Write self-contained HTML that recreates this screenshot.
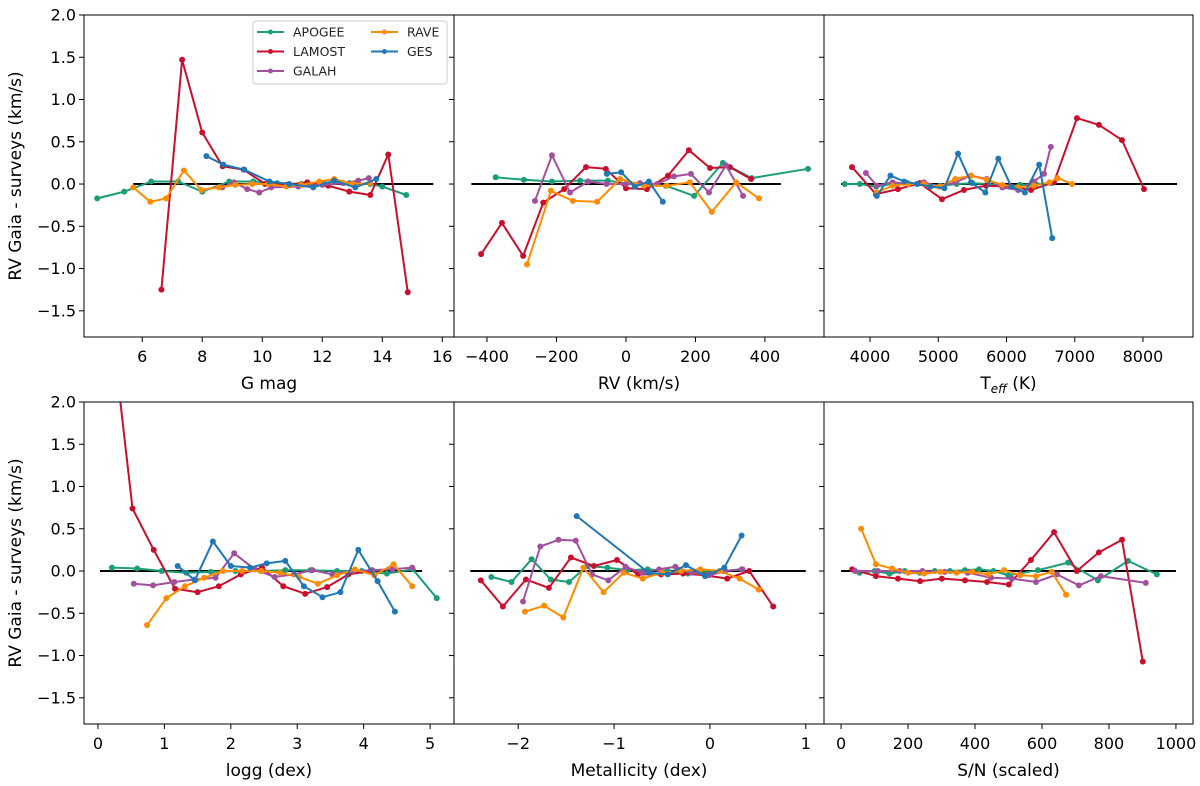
<!DOCTYPE html>
<html><head><meta charset="utf-8"><style>
html,body{margin:0;padding:0;background:#fff;}
svg{display:block;font-family:"DejaVu Sans","Liberation Sans",sans-serif;}
</style></head><body>
<svg id="fig" width="1200" height="786" viewBox="0 0 1200 786" xmlns="http://www.w3.org/2000/svg"></svg>
<script>
// ---------- data ----------
const seriesNames = ["APOGEE","LAMOST","GALAH","RAVE","GES"];
const seriesColors = ["#1b9e77","#c8102e","#a2509e","#ff8c00","#1f77b4"];
const yTicks = [-1.5,-1.0,-0.5,0.0,0.5,1.0,1.5,2.0];
const yTickLabels = ["−1.5","−1.0","−0.5","0.0","0.5","1.0","1.5","2.0"];

// Panel 1: G mag
const gTicks = [6,8,10,12,14,16];
const gApogeeX = [4.5,5.4,6.3,7.2,8.0,8.9,9.7,10.5,11.3,12.1,12.9,13.6,14.0,14.8];
const gApogeeY = [-0.17,-0.09,0.03,0.03,-0.09,0.03,0.03,0.01,0.0,0.0,0.01,0.0,-0.03,-0.13];
const gLamostX = [6.64,7.33,8.0,8.68,9.38,10.1,10.8,11.5,12.2,12.9,13.6,14.2,14.85];
const gLamostY = [-1.25,1.47,0.61,0.21,0.17,0.0,-0.01,0.02,-0.02,-0.09,-0.13,0.35,-1.28];
const gGalahX = [8.67,9.06,9.5,9.9,10.3,11.2,12.0,12.7,13.2,13.55];
const gGalahY = [-0.04,0.02,-0.06,-0.1,-0.04,-0.03,-0.01,0.01,0.04,0.07];
const gRaveX = [5.7,6.27,6.8,7.39,7.97,8.55,9.1,9.67,10.2,10.8,11.3,11.9,12.4,13.0,13.6];
const gRaveY = [-0.04,-0.21,-0.17,0.16,-0.07,-0.04,-0.01,0.0,0.0,-0.03,-0.01,0.03,0.06,0.0,0.01];
const gGesX = [8.14,8.7,9.4,10.24,10.9,11.7,12.4,13.1,13.8];
const gGesY = [0.33,0.23,0.17,0.03,0.0,-0.04,0.04,-0.04,0.06];

// Panel 2: RV
const rvTicks = [-400,-200,0,200,400];
const rvApogeeX = [-375,-294,-213,-132,-52,26,115,196,279,362,524];
const rvApogeeY = [0.08,0.05,0.03,0.04,0.04,-0.01,-0.02,-0.14,0.25,0.07,0.18];
const rvLamostX = [-417,-357,-296,-238,-178,-115,-58,0,60,121,181,242,299,360];
const rvLamostY = [-0.83,-0.46,-0.85,-0.22,-0.06,0.2,0.18,-0.05,-0.06,0.1,0.4,0.19,0.2,0.06];
const rvGalahX = [-262,-213,-161,-109,-56,0,40,90,138,187,239,288,337];
const rvGalahY = [-0.2,0.34,-0.1,0.03,0.0,0.0,0.01,0.0,0.09,0.12,-0.1,0.22,-0.14];
const rvRaveX = [-285,-216,-153,-83,-17,52,118,184,247,317,383];
const rvRaveY = [-0.95,-0.08,-0.2,-0.21,0.06,-0.02,-0.02,0.02,-0.33,0.02,-0.17];
const rvGesX = [-55,-14,26,66,106];
const rvGesY = [0.12,0.14,-0.03,0.03,-0.21];

// Panel 3: Teff
const tTicks = [4000,5000,6000,7000,8000];
const tApogeeX = [3630,3850,4090,4320,4550,4800,5030,5270,5500,5730,5970,6200,6430,6650];
const tApogeeY = [0.0,0.0,-0.03,0.0,0.01,0.0,-0.02,0.0,0.01,0.0,-0.03,-0.01,0.0,0.01];
const tLamostX = [3736,4088,4410,4730,5055,5377,5700,6037,6360,6695,7033,7355,7692,8015];
const tLamostY = [0.2,-0.12,-0.06,0.01,-0.18,-0.07,-0.02,-0.03,-0.07,0.02,0.78,0.7,0.52,-0.06];
const tGalahX = [3940,4100,4330,4560,4790,5020,5250,5480,5710,5940,6170,6400,6550,6650];
const tGalahY = [0.13,-0.02,0.02,0.0,0.02,-0.03,0.02,0.1,0.06,-0.04,-0.07,0.03,0.12,0.44];
const tRaveX = [4100,4330,4560,4790,5020,5250,5480,5710,5940,6170,6400,6630,6750,6960];
const tRaveY = [-0.1,-0.02,0.0,0.0,-0.03,0.06,0.1,0.05,-0.01,-0.04,-0.02,0.02,0.07,0.0];
const tGesX = [4100,4300,4500,4690,4890,5090,5290,5480,5690,5880,6070,6270,6480,6670];
const tGesY = [-0.14,0.1,0.03,0.0,-0.03,-0.05,0.36,0.02,-0.1,0.3,-0.03,-0.1,0.23,-0.64];

// Panel 4: logg
const lTicks = [0,1,2,3,4,5];
const lApogeeX = [0.21,0.59,0.96,1.33,1.7,2.07,2.45,2.82,3.2,3.6,3.97,4.35,4.74,5.1];
const lApogeeY = [0.04,0.03,0.0,-0.02,-0.01,0.0,0.0,0.01,0.01,0.0,0.0,-0.03,0.02,-0.32];
const lLamostX = [0.25,0.52,0.84,1.16,1.5,1.82,2.15,2.47,2.79,3.12,3.45,3.77,4.1];
const lLamostY = [2.6,0.74,0.25,-0.21,-0.25,-0.18,-0.04,0.04,-0.18,-0.27,-0.19,-0.04,0.0];
const lGalahX = [0.54,0.83,1.15,1.45,1.77,2.05,2.36,2.66,2.95,3.23,3.53,3.83,4.13,4.43,4.73];
const lGalahY = [-0.15,-0.17,-0.13,-0.1,-0.08,0.21,0.02,-0.07,-0.04,0.01,-0.04,0.0,0.01,0.02,0.04];
const lRaveX = [0.74,1.03,1.31,1.6,1.88,2.17,2.46,2.74,3.03,3.31,3.6,3.87,4.16,4.45,4.73];
const lRaveY = [-0.64,-0.32,-0.18,-0.08,0.0,0.0,0.0,-0.02,-0.07,-0.15,-0.05,0.02,-0.05,0.08,-0.18];
const lGesX = [1.2,1.46,1.73,2.0,2.29,2.54,2.82,3.1,3.38,3.65,3.92,4.21,4.47];
const lGesY = [0.06,-0.11,0.35,0.06,0.04,0.09,0.12,-0.18,-0.31,-0.25,0.25,-0.12,-0.48];

// Panel 5: Metallicity
const mTicks = [-2,-1,0,1];
const mApogeeX = [-2.28,-2.07,-1.86,-1.66,-1.47,-1.28,-1.07,-0.86,-0.65,-0.44,-0.23,-0.05,0.14,0.33];
const mApogeeY = [-0.07,-0.13,0.14,-0.1,-0.13,0.06,0.04,0.01,0.02,0.0,-0.03,-0.02,0.0,0.02];
const mLamostX = [-2.39,-2.16,-1.92,-1.68,-1.45,-1.21,-0.97,-0.75,-0.51,-0.28,-0.05,0.18,0.41,0.66];
const mLamostY = [-0.11,-0.42,-0.1,-0.2,0.16,0.06,0.13,-0.04,-0.04,-0.03,-0.05,-0.09,0.0,-0.42];
const mGalahX = [-1.95,-1.77,-1.58,-1.4,-1.23,-1.06,-0.88,-0.71,-0.53,-0.36,-0.19,-0.01,0.16,0.34];
const mGalahY = [-0.36,0.29,0.37,0.36,-0.04,-0.11,0.05,-0.02,0.02,0.05,-0.02,-0.05,0.0,0.02];
const mRaveX = [-1.93,-1.73,-1.53,-1.32,-1.11,-0.9,-0.7,-0.5,-0.3,-0.1,0.1,0.31,0.51];
const mRaveY = [-0.48,-0.41,-0.55,0.04,-0.25,-0.02,-0.09,-0.02,0.0,0.02,0.0,-0.09,-0.22];
const mGesX = [-1.39,-0.64,-0.44,-0.25,-0.05,0.15,0.33];
const mGesY = [0.65,-0.02,-0.04,0.07,-0.06,0.04,0.42];

// Panel 6: S/N
const sTicks = [0,200,400,600,800,1000];
const sApogeeX = [55,100,145,190,235,280,325,370,412,455,499,588,678,767,857,943];
const sApogeeY = [-0.02,0.0,-0.03,0.0,-0.02,0.0,0.0,0.01,0.02,0.0,-0.05,0.01,0.1,-0.11,0.12,-0.04];
const sLamostX = [33,104,170,236,301,370,436,501,567,636,704,770,839,901];
const sLamostY = [0.02,-0.06,-0.09,-0.12,-0.09,-0.11,-0.13,-0.16,0.13,0.46,0.0,0.22,0.37,-1.07];
const sGalahX = [42,110,175,243,310,378,448,510,582,645,710,776,910];
const sGalahY = [0.0,0.0,0.0,0.0,-0.01,-0.02,-0.08,-0.09,-0.13,-0.04,-0.17,-0.06,-0.14];
const sRaveX = [60,104,152,200,248,296,345,392,440,487,535,582,629,672];
const sRaveY = [0.5,0.08,0.03,-0.02,-0.03,-0.01,-0.02,-0.01,-0.04,0.01,-0.05,-0.06,-0.01,-0.28];
const sGesX = [];
const sGesY = [];

// ---------- layout ----------
const NS = "http://www.w3.org/2000/svg";
const svg = document.getElementById("fig");
function mk(tag, attrs, parent){
  const e = document.createElementNS(NS, tag);
  for (const k in attrs) e.setAttribute(k, attrs[k]);
  (parent||svg).appendChild(e);
  return e;
}
const panels = [
  {key:"gmag", x0:84, y0:15, w:370, h:322, dom:[4.06,16.39], ref:[5.7,15.7], ticks:gTicks, fmt:v=>String(v), label:"G mag", showY:true,
   xs:[gApogeeX,gLamostX,gGalahX,gRaveX,gGesX], ys:[gApogeeY,gLamostY,gGalahY,gRaveY,gGesY]},
  {key:"rv", x0:454, y0:15, w:370, h:322, dom:[-495,570], ref:[-445,446], ticks:rvTicks, fmt:v=>String(v).replace("-","−"), label:"RV (km/s)", showY:false,
   xs:[rvApogeeX,rvLamostX,rvGalahX,rvRaveX,rvGesX], ys:[rvApogeeY,rvLamostY,rvGalahY,rvRaveY,rvGesY]},
  {key:"teff", x0:824, y0:15, w:369, h:322, dom:[3326,8733], ref:[3575,8500], ticks:tTicks, fmt:v=>String(v), label:"TEFF", showY:false,
   xs:[tApogeeX,tLamostX,tGalahX,tRaveX,tGesX], ys:[tApogeeY,tLamostY,tGalahY,tRaveY,tGesY]},
  {key:"logg", x0:84, y0:402, w:370, h:322, dom:[-0.21,5.36], ref:[0.03,4.88], ticks:lTicks, fmt:v=>String(v), label:"logg (dex)", showY:true,
   xs:[lApogeeX,lLamostX,lGalahX,lRaveX,lGesX], ys:[lApogeeY,lLamostY,lGalahY,lRaveY,lGesY]},
  {key:"metallicity", x0:454, y0:402, w:370, h:322, dom:[-2.67,1.19], ref:[-2.5,1.0], ticks:mTicks, fmt:v=>String(v).replace("-","−"), label:"Metallicity (dex)", showY:false,
   xs:[mApogeeX,mLamostX,mGalahX,mRaveX,mGesX], ys:[mApogeeY,mLamostY,mGalahY,mRaveY,mGesY]},
  {key:"snr", x0:824, y0:402, w:369, h:322, dom:[-51,1051], ref:[0,1000], ticks:sTicks, fmt:v=>String(v), label:"S/N (scaled)", showY:false,
   xs:[sApogeeX,sLamostX,sGalahX,sRaveX,sGesX], ys:[sApogeeY,sLamostY,sGalahY,sRaveY,sGesY]},
];
const yDom = [-1.81, 2.0];

panels.forEach((p, pi) => {
  const g = mk("g", {});
  
  
  const sx = v => p.x0 + (v - p.dom[0]) / (p.dom[1] - p.dom[0]) * p.w;
  const sy = v => p.y0 + (yDom[1] - v) / (yDom[1] - yDom[0]) * p.h;
  const clip = mk("clipPath", {id:"clip"+pi}, g);
  mk("rect", {x:p.x0, y:p.y0, width:p.w, height:p.h}, clip);

  // y ticks
  yTicks.forEach((t, i) => {
    const y = sy(t);
    const tk = mk("line", {x1:p.x0-5, x2:p.x0, y1:y, y2:y, stroke:"#000", "stroke-width":1}, g);
    
    
    if (p.showY) {
      const tx = mk("text", {x:p.x0-8, y:y+5.5, "text-anchor":"end", "font-size":"16", fill:"#000"}, g);
      tx.textContent = yTickLabels[i];
      
      
    }
  });
  // x ticks
  p.ticks.forEach(t => {
    const x = sx(t);
    const tk = mk("line", {x1:x, x2:x, y1:p.y0+p.h, y2:p.y0+p.h+5, stroke:"#000", "stroke-width":1}, g);
    
    
    const tx = mk("text", {x:x, y:p.y0+p.h+25, "text-anchor":"middle", "font-size":"16", fill:"#000"}, g);
    tx.textContent = p.fmt(t);
    
    
  });
  // x label
  const xl = mk("text", {x:p.x0+p.w/2, y:p.y0+p.h+52, "text-anchor":"middle", "font-size":"17", fill:"#000"}, g);
  if (p.label === "TEFF") {
    xl.appendChild(document.createTextNode("T"));
    const ts = mk("tspan", {"font-style":"italic", "font-size":"12", dy:"4"}, xl);
    ts.textContent = "eff";
    const ts2 = mk("tspan", {dy:"-4"}, xl);
    ts2.textContent = " (K)";
  } else {
    xl.textContent = p.label;
  }
  
  

  // reference line
  const rl = mk("line", {x1:sx(p.ref[0]), x2:sx(p.ref[1]), y1:sy(0), y2:sy(0), stroke:"#000", "stroke-width":2}, g);
  
  

  // series
  const sg = mk("g", {"clip-path":"url(#clip"+pi+")"}, g);
  p.xs.forEach((xsArr, si) => {
    const ysArr = p.ys[si];
    if (!xsArr.length) return;
    const pts = xsArr.map((v, k) => sx(v).toFixed(1) + "," + sy(ysArr[k]).toFixed(1)).join(" ");
    const pl = mk("polyline", {points:pts, fill:"none", stroke:seriesColors[si], "stroke-width":2, "stroke-linejoin":"round"}, sg);
    
    
    xsArr.forEach((v, k) => {
      const c = mk("circle", {cx:sx(v), cy:sy(ysArr[k]), r:3, fill:seriesColors[si]}, sg);
      
      
    });
  });
  // frame
  const fr = mk("rect", {x:p.x0, y:p.y0, width:p.w, height:p.h, fill:"none", stroke:"#000", "stroke-width":1}, g);
  
  
});

// y axis titles
[[176],[563]].forEach((c, i) => {
  const t = mk("text", {x:0, y:0, "text-anchor":"middle", "font-size":"17", fill:"#000", transform:"translate(21," + c[0] + ") rotate(-90)"});
  t.textContent = "RV Gaia - surveys (km/s)";
  
  
});

// legend
const lg = mk("g", {});


mk("rect", {x:253, y:21, width:194, height:63, rx:3, fill:"#fff", stroke:"#ccc", "stroke-width":1}, lg);
const legPos = [[257,32],[257,51.5],[257,71],[371,32],[371,51.5]];
seriesNames.forEach((n, i) => {
  const [lx, ly] = legPos[i];
  const e = mk("g", {}, lg);
  
  
  mk("line", {x1:lx, x2:lx+27, y1:ly, y2:ly, stroke:seriesColors[i], "stroke-width":2}, e);
  mk("circle", {cx:lx+13.5, cy:ly, r:2.5, fill:seriesColors[i]}, e);
  const t = mk("text", {x:lx+36, y:ly+4.5, "font-size":"12.5", fill:"#222"}, e);
  t.textContent = n;
});
</script>
</body></html>
